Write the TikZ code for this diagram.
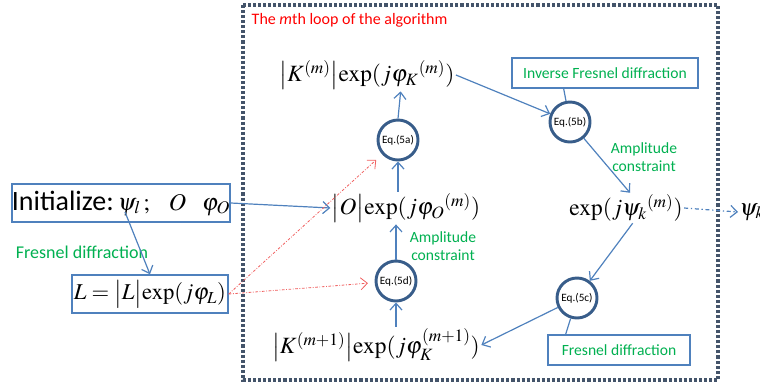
\documentclass[tikz,border=0pt]{standalone}
\usepackage{mathptmx}
\usepackage[no-math]{fontspec}
\setmainfont{Liberation Serif}
\setsansfont{Carlito}
\usetikzlibrary{positioning, arrows.meta}

\definecolor{boxblue}{HTML}{4F81BD}
\definecolor{ringblue}{HTML}{385D8A}
\definecolor{loopgray}{HTML}{44546A}
\definecolor{notegreen}{HTML}{00B050}
\definecolor{hintred}{HTML}{F06060}

\begin{document}
\begin{tikzpicture}[x=0.75pt, y=-0.75pt,
    eqn/.style={font=\fontsize{17.5}{21}\selectfont, inner sep=1pt},
    note/.style={font=\sffamily\fontsize{11.7}{13.5}\selectfont, text=notegreen, align=center},
    labelbox/.style={draw=boxblue, line width=1.1pt, inner sep=0pt},
    eqring/.style={circle, draw=ringblue, line width=2.2pt, minimum size=30pt, inner sep=0pt,
        font=\sffamily\fontsize{8.4}{9}\selectfont},
    flow/.style={draw=boxblue, line width=0.9pt, -{Straight Barb[length=5pt, width=9pt]}},
    hint/.style={draw=hintred, line width=0.6pt, dash pattern=on 2pt off 1.2pt on 0.6pt off 1.2pt,
        -{Straight Barb[length=5pt, width=9pt]}}]
    \useasboundingbox (0,0) rectangle (760,383);

    % Loop frame
    \draw[loopgray, line width=2.3pt, dash pattern=on 2.3pt off 1.5pt] (243,5) rectangle (718,380);
    \node[anchor=west, text=red, font=\sffamily\fontsize{12}{14}\selectfont] (title) at (247,20)
        {The \textit{m}th loop of the algorithm};

    % Initialisation (outside the loop)
    \node[labelbox, minimum width=163.5pt, minimum height=28.5pt] (init) at (121,203)
        {\fontsize{18}{22}\selectfont{\sffamily\fontsize{21}{23}\selectfont Initialize:}\,$\psi_l\,;\;\;\;O\;\;\;\varphi_O$};
    \node[labelbox, minimum width=117pt, minimum height=28.5pt, font=\fontsize{17}{21}\selectfont] (Lbox) at (150,294)
        {$L\;{=}\;\bigl|L\bigr|\mathrm{exp}(j\varphi_L)$};
    \node[note, font=\sffamily\fontsize{13.5}{15}\selectfont] (fresL) at (82,252) {Fresnel diffraction};

    % Fields
    \node[eqn] (Kfield) at (367,75) {$\bigl|K^{(m)}\bigr|\mathrm{exp}(j\varphi_K{}^{(m)})$};
    \node[eqn] (Ofield) at (406,208) {$\bigl|O\bigr|\mathrm{exp}(j\varphi_O{}^{(m)})$};
    \node[eqn] (psifield) at (626,208) {$\mathrm{exp}(j\psi_k{}^{(m)})$};
    \node[eqn, anchor=west] (psiout) at (738,212) {$\psi_k$};
    \node[eqn] (Knext) at (376,345) {$\bigl|K^{(m+1)}\bigr|\mathrm{exp}(j\varphi_K^{(m+1)})$};

    % Equation rings
    \node[eqring] (eqa) at (398,140) {Eq.(5a)};
    \node[eqring] (eqb) at (570,122) {Eq.(5b)};
    \node[eqring] (eqc) at (577,298) {Eq.(5c)};
    \node[eqring] (eqd) at (396,281) {Eq.(5d)};

    % Labels
    \node[labelbox, note, minimum width=139.5pt, minimum height=22.5pt] (ifres) at (605,73) {Inverse Fresnel diffraction};
    \node[labelbox, note, minimum width=106.5pt, minimum height=22.5pt] (fres) at (619,350) {Fresnel diffraction};
    \node[note] (ampO) at (443,246) {Amplitude\\constraint};
    \node[note] (ampK) at (644,157) {Amplitude\\constraint};

    % Connectors
    \draw[flow] ([shift={(4,9)}]init.center) -- (Lbox.north);
    \draw[flow] (init.east) -- (Ofield.west);
    \draw[hint, shorten >=6pt] (Lbox.east) -- (eqa);
    \draw[hint, shorten >=5pt] (Lbox.east) -- (eqd);
    \draw[flow] (Knext.north -| eqd) -- (eqd.south);
    \draw[flow] (eqd.north) -- (eqd |- Ofield.south);
    \draw[flow] (eqa |- Ofield.north) -- (eqa.south);
    \draw[flow] (eqa.north) -- ([xshift=2pt]eqa |- Kfield.south);
    \draw[flow] (Kfield.east) -- (eqb);
    \draw[flow] (eqb) -- ([xshift=3pt]psifield.north);
    \draw[flow] ([xshift=5pt]psifield.south) -- (eqc);
    \draw[flow] (eqc) -- (Knext.east);
    \draw[boxblue, line width=0.9pt] ([xshift=-31pt]ifres.south) -- (eqb);
    \draw[boxblue, line width=0.9pt] ([xshift=-40pt]fres.north) -- (eqc);
    \draw[flow, dash pattern=on 3pt off 2pt on 1pt off 2pt] (psifield.east) -- (psiout.west);
\end{tikzpicture}
\end{document}
